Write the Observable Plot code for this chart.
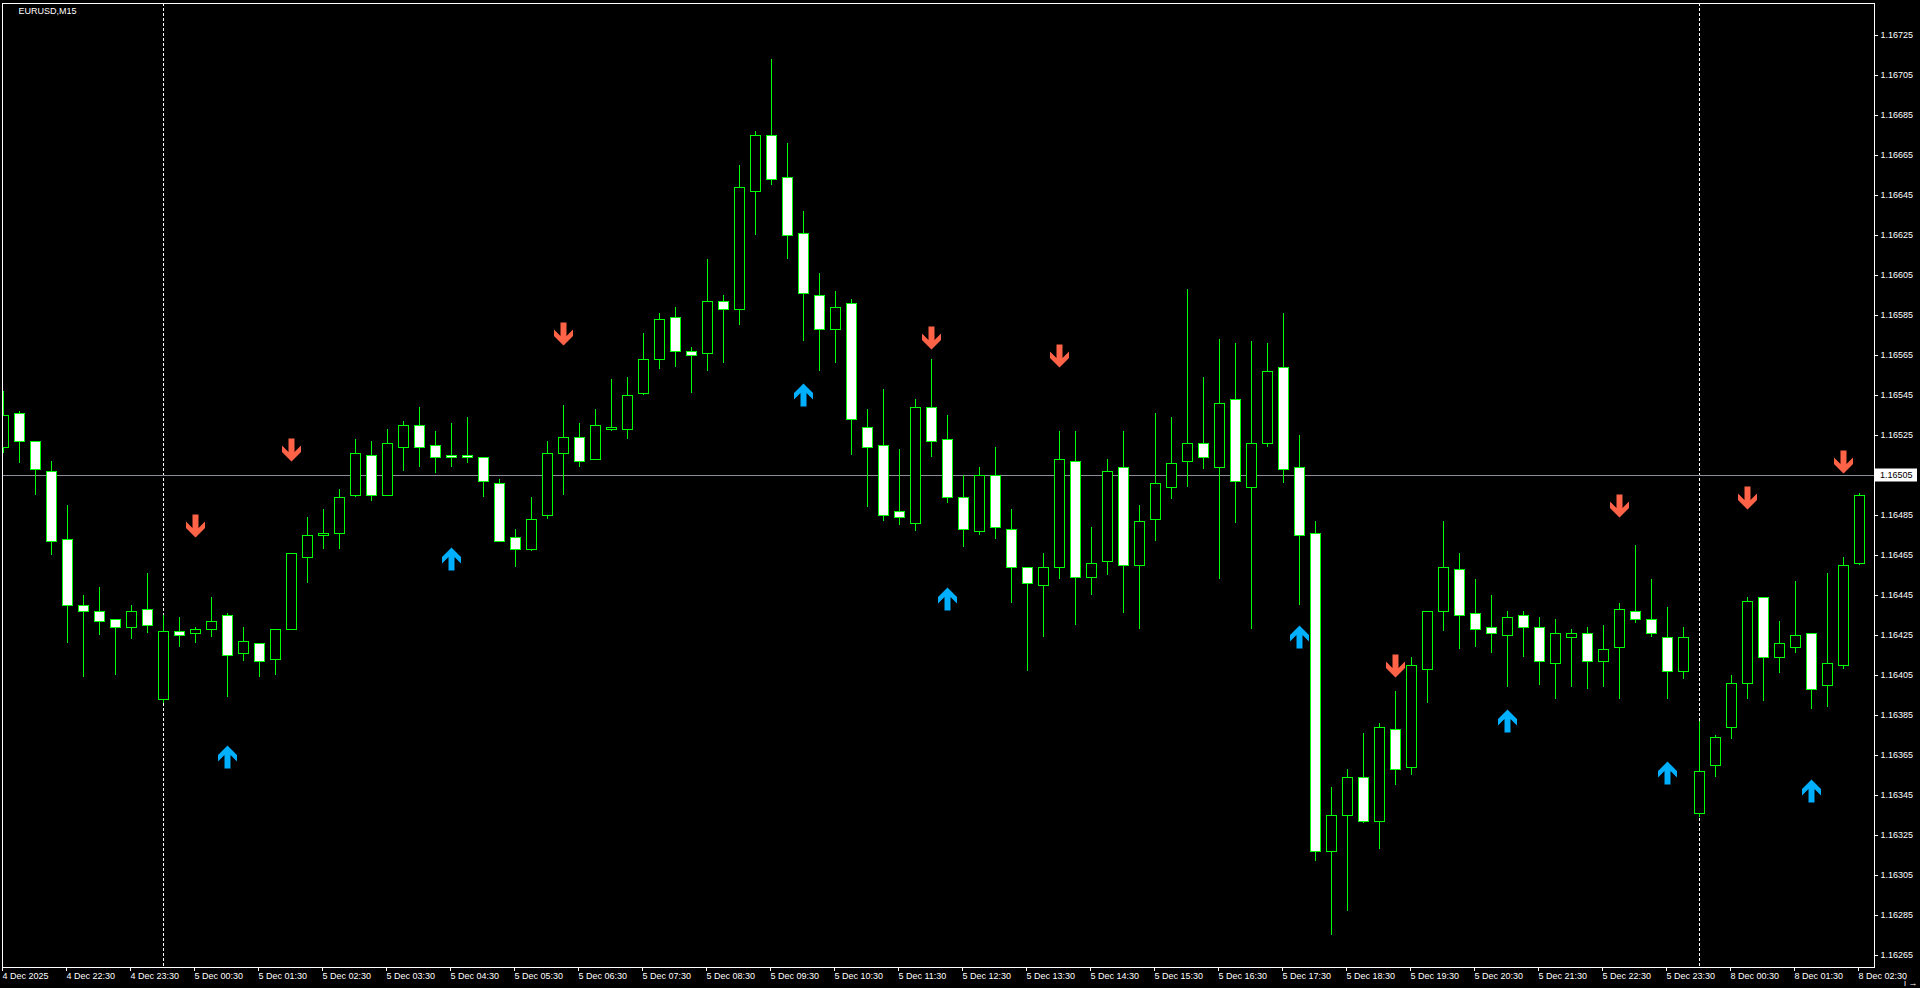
<!DOCTYPE html>
<html><head><meta charset="utf-8">
<script src="https://cdn.jsdelivr.net/npm/d3@7"></script>
<script src="https://cdn.jsdelivr.net/npm/@observablehq/plot@0.6"></script>
<style>html,body{margin:0;padding:0;background:#000;overflow:hidden}</style>
</head><body><div id="chart"></div>
<script>
const symbolName = "EURUSD,M15";

const open = [
1.16519,1.16536,1.16522,1.16507,1.16473,1.16440,1.16437,1.16433,1.16429,1.16438,
1.16393,1.16427,1.16426,1.16428,1.16435,1.16416,1.16421,1.16413,1.16428,1.16464,
1.16475,1.16476,1.16495,1.16515,1.16495,1.16519,1.16530,1.16520,1.16515,1.16515,
1.16514,1.16501,1.16474,1.16468,1.16485,1.16516,1.16524,1.16513,1.16528,1.16528,
1.16546,1.16563,1.16584,1.16567,1.16566,1.16592,1.16588,1.16647,1.16675,1.16654,
1.16626,1.16595,1.16578,1.16591,1.16529,1.16520,1.16487,1.16481,1.16539,1.16523,
1.16494,1.16477,1.16505,1.16478,1.16459,1.16450,1.16459,1.16512,1.16454,1.16462,
1.16509,1.16460,1.16483,1.16499,1.16512,1.16521,1.16509,1.16543,1.16499,1.16521,
1.16559,1.16509,1.16476,1.16317,1.16335,1.16354,1.16332,1.16378,1.16359,1.16408,
1.16437,1.16458,1.16436,1.16429,1.16425,1.16435,1.16429,1.16411,1.16424,1.16426,
1.16412,1.16419,1.16437,1.16433,1.16424,1.16407,1.16336,1.16360,1.16379,1.16401,
1.16444,1.16414,1.16419,1.16426,1.16400,1.16410,1.16461];

const high = [
1.16547,1.16537,1.16522,1.16512,1.16490,1.16445,1.16449,1.16433,1.16440,1.16456,
1.16435,1.16434,1.16429,1.16444,1.16436,1.16429,1.16421,1.16428,1.16466,1.16484,
1.16488,1.16498,1.16523,1.16522,1.16528,1.16532,1.16539,1.16527,1.16531,1.16534,
1.16514,1.16503,1.16478,1.16494,1.16522,1.16540,1.16531,1.16538,1.16553,1.16554,
1.16576,1.16586,1.16589,1.16569,1.16613,1.16595,1.16660,1.16677,1.16713,1.16671,
1.16637,1.16606,1.16597,1.16593,1.16538,1.16548,1.16518,1.16543,1.16563,1.16535,
1.16505,1.16509,1.16519,1.16488,1.16459,1.16466,1.16527,1.16527,1.16479,1.16513,
1.16527,1.16490,1.16536,1.16534,1.16598,1.16554,1.16573,1.16571,1.16572,1.16571,
1.16586,1.16525,1.16482,1.16349,1.16358,1.16376,1.16381,1.16397,1.16414,1.16437,
1.16482,1.16466,1.16453,1.16445,1.16437,1.16437,1.16434,1.16433,1.16428,1.16429,
1.16430,1.16441,1.16470,1.16453,1.16439,1.16429,1.16382,1.16375,1.16405,1.16444,
1.16444,1.16432,1.16452,1.16426,1.16456,1.16464,1.16496];

const low = [
1.16516,1.16511,1.16495,1.16465,1.16421,1.16404,1.16425,1.16405,1.16423,1.16426,
1.16391,1.16419,1.16421,1.16424,1.16394,1.16412,1.16404,1.16405,1.16428,1.16451,
1.16468,1.16468,1.16494,1.16492,1.16495,1.16507,1.16509,1.16506,1.16509,1.16511,
1.16494,1.16472,1.16459,1.16467,1.16483,1.16495,1.16509,1.16513,1.16527,1.16523,
1.16545,1.16558,1.16559,1.16546,1.16557,1.16561,1.16580,1.16625,1.16650,1.16613,
1.16572,1.16557,1.16561,1.16515,1.16489,1.16482,1.16480,1.16477,1.16514,1.16491,
1.16469,1.16475,1.16473,1.16441,1.16407,1.16424,1.16453,1.16430,1.16445,1.16455,
1.16436,1.16428,1.16472,1.16493,1.16499,1.16508,1.16453,1.16481,1.16428,1.16519,
1.16501,1.16440,1.16312,1.16275,1.16287,1.16331,1.16318,1.16350,1.16355,1.16391,
1.16427,1.16418,1.16419,1.16416,1.16399,1.16414,1.16400,1.16393,1.16399,1.16398,
1.16399,1.16393,1.16431,1.16424,1.16393,1.16403,1.16334,1.16354,1.16373,1.16393,
1.16392,1.16406,1.16416,1.16388,1.16389,1.16408,1.16460];

const close = [
1.16535,1.16522,1.16508,1.16472,1.16440,1.16437,1.16432,1.16429,1.16437,1.16430,
1.16427,1.16425,1.16428,1.16432,1.16415,1.16422,1.16412,1.16428,1.16466,1.16475,
1.16476,1.16494,1.16516,1.16495,1.16521,1.16530,1.16519,1.16514,1.16514,1.16514,
1.16502,1.16472,1.16468,1.16483,1.16516,1.16524,1.16512,1.16530,1.16529,1.16545,
1.16563,1.16583,1.16567,1.16565,1.16592,1.16588,1.16649,1.16675,1.16653,1.16625,
1.16596,1.16578,1.16589,1.16533,1.16519,1.16485,1.16484,1.16539,1.16522,1.16494,
1.16478,1.16505,1.16479,1.16459,1.16451,1.16459,1.16513,1.16454,1.16461,1.16507,
1.16460,1.16482,1.16501,1.16511,1.16521,1.16514,1.16541,1.16502,1.16521,1.16557,
1.16508,1.16475,1.16317,1.16335,1.16354,1.16332,1.16379,1.16358,1.16410,1.16437,
1.16459,1.16435,1.16428,1.16426,1.16434,1.16429,1.16412,1.16426,1.16426,1.16412,
1.16418,1.16438,1.16433,1.16426,1.16407,1.16424,1.16357,1.16374,1.16401,1.16442,
1.16414,1.16421,1.16425,1.16398,1.16411,1.16460,1.16495];

const sellIdx   = [12, 18, 35, 58, 66, 87, 101, 109, 115];
const sellPrice = [1.16474, 1.16512, 1.16570, 1.16568, 1.16559, 1.16404, 1.16484, 1.16488, 1.16506];
const buyIdx    = [14, 28, 50, 59, 81, 94, 104, 113];
const buyPrice  = [1.16370, 1.16469, 1.16551, 1.16449, 1.16430, 1.16388, 1.16362, 1.16353];

const yTicks = [1.16265,1.16285,1.16305,1.16325,1.16345,1.16365,1.16385,1.16405,1.16425,1.16445,1.16465,1.16485,
  1.16505,1.16525,1.16545,1.16565,1.16585,1.16605,1.16625,1.16645,1.16665,1.16685,1.16705,1.16725];
const xTickIdx = [0,4,8,12,16,20,24,28,32,36,40,44,48,52,56,60,64,68,72,76,80,84,88,92,96,100,104,108,112,116];
const xTickLabels = ["4 Dec 2025","4 Dec 22:30","4 Dec 23:30","5 Dec 00:30","5 Dec 01:30","5 Dec 02:30","5 Dec 03:30",
  "5 Dec 04:30","5 Dec 05:30","5 Dec 06:30","5 Dec 07:30","5 Dec 08:30","5 Dec 09:30","5 Dec 10:30","5 Dec 11:30",
  "5 Dec 12:30","5 Dec 13:30","5 Dec 14:30","5 Dec 15:30","5 Dec 16:30","5 Dec 17:30","5 Dec 18:30","5 Dec 19:30",
  "5 Dec 20:30","5 Dec 21:30","5 Dec 22:30","5 Dec 23:30","8 Dec 00:30","8 Dec 01:30","8 Dec 02:30"];
const daySeparators = [10, 106];
const bidPrice = 1.16505;

const bars = open.map((o, i) => ({i, open: o, high: high[i], low: low[i], close: close[i], bull: close[i] >= o}));
const sells = sellIdx.map((i, k) => ({i, price: sellPrice[k]}));
const buys = buyIdx.map((i, k) => ({i, price: buyPrice[k]}));
const labelOf = new Map(xTickIdx.map((i, k) => [i, xTickLabels[k]]));

const downArrow = {draw(c) {
  c.moveTo(0, 0); c.lineTo(9.5, -9.5); c.lineTo(9.5, -16); c.lineTo(3, -9.5); c.lineTo(3, -23);
  c.lineTo(-3, -23); c.lineTo(-3, -9.5); c.lineTo(-9.5, -16); c.lineTo(-9.5, -9.5); c.closePath();
}};
const upArrow = {draw(c) {
  c.moveTo(0, 0); c.lineTo(9.5, 9.5); c.lineTo(9.5, 16); c.lineTo(3, 9.5); c.lineTo(3, 23);
  c.lineTo(-3, 23); c.lineTo(-3, 9.5); c.lineTo(-9.5, 16); c.lineTo(-9.5, 9.5); c.closePath();
}};

const GREEN = "#00ff00";
const halfBody = 5 / 16;

const plot = Plot.plot({
  width: 1920, height: 988,
  marginLeft: 2, marginRight: 46, marginTop: 3, marginBottom: 21,
  style: {background: "#000", color: "#fff", fontFamily: "'Liberation Sans', Arial, sans-serif", fontSize: "9px"},
  x: {type: "linear", domain: [-0.0625, 116.9375], axis: null},
  y: {type: "linear", domain: [1.16259, 1.16741], axis: null},
  marks: [
    Plot.ruleX(daySeparators, {x: d => d, stroke: "#fff", strokeDasharray: "3,2", shapeRendering: "crispEdges"}),
    Plot.ruleY([bidPrice], {y: d => d, stroke: "#8a8f9a", shapeRendering: "crispEdges"}),
    Plot.ruleX(bars, {x: "i", y1: "low", y2: "high", stroke: GREEN, clip: true, shapeRendering: "crispEdges"}),
    Plot.rect(bars, {x1: d => d.i - halfBody, x2: d => d.i + halfBody, y1: "open", y2: "close",
      fill: d => d.bull ? "#000" : "#fff", stroke: GREEN, strokeWidth: 1, clip: true, shapeRendering: "crispEdges"}),
    Plot.dot(sells, {x: "i", y: "price", symbol: downArrow, r: 5, fill: "#ff6347", stroke: null}),
    Plot.dot(buys, {x: "i", y: "price", symbol: upArrow, r: 5, fill: "#00b0ff", stroke: null}),
    Plot.frame({stroke: "#fff", shapeRendering: "crispEdges"}),
    Plot.axisY(yTicks, {anchor: "right", tickSize: 3, tickPadding: 3,
      tickFormat: d => (Math.abs(d - bidPrice) < 1e-9 ? "" : d.toFixed(5)),
      stroke: "#fff", fill: "#fff", fontSize: 9}),
    Plot.axisX(xTickIdx, {anchor: "bottom", tickSize: 4, tickPadding: 1, tickFormat: i => labelOf.get(i),
      textAnchor: "start", dx: -1, stroke: "#fff", fill: "#fff", fontSize: 9}),
    Plot.text([symbolName], {frameAnchor: "top-left", dx: 16, dy: 8, text: d => d, fill: "#fff",
      textAnchor: "start", lineAnchor: "middle", fontSize: 9})
  ]
});

document.getElementById("chart").appendChild(plot);

// bid price label box on the price scale
const ys = plot.scale("y");
const yb = ys.apply(bidPrice);
const svg = d3.select(plot);
const g = svg.append("g").attr("text-anchor", "start");
g.append("rect").attr("x", 1875).attr("y", yb - 6.5).attr("width", 42).attr("height", 13).attr("fill", "#fff");
g.append("text").attr("x", 1880).attr("y", yb).attr("dy", "0.35em").attr("fill", "#000")
  .attr("text-anchor", "start")
  .attr("font-size", 9).attr("font-family", "'Liberation Sans', Arial, sans-serif").text(bidPrice.toFixed(5));
</script></body></html>
